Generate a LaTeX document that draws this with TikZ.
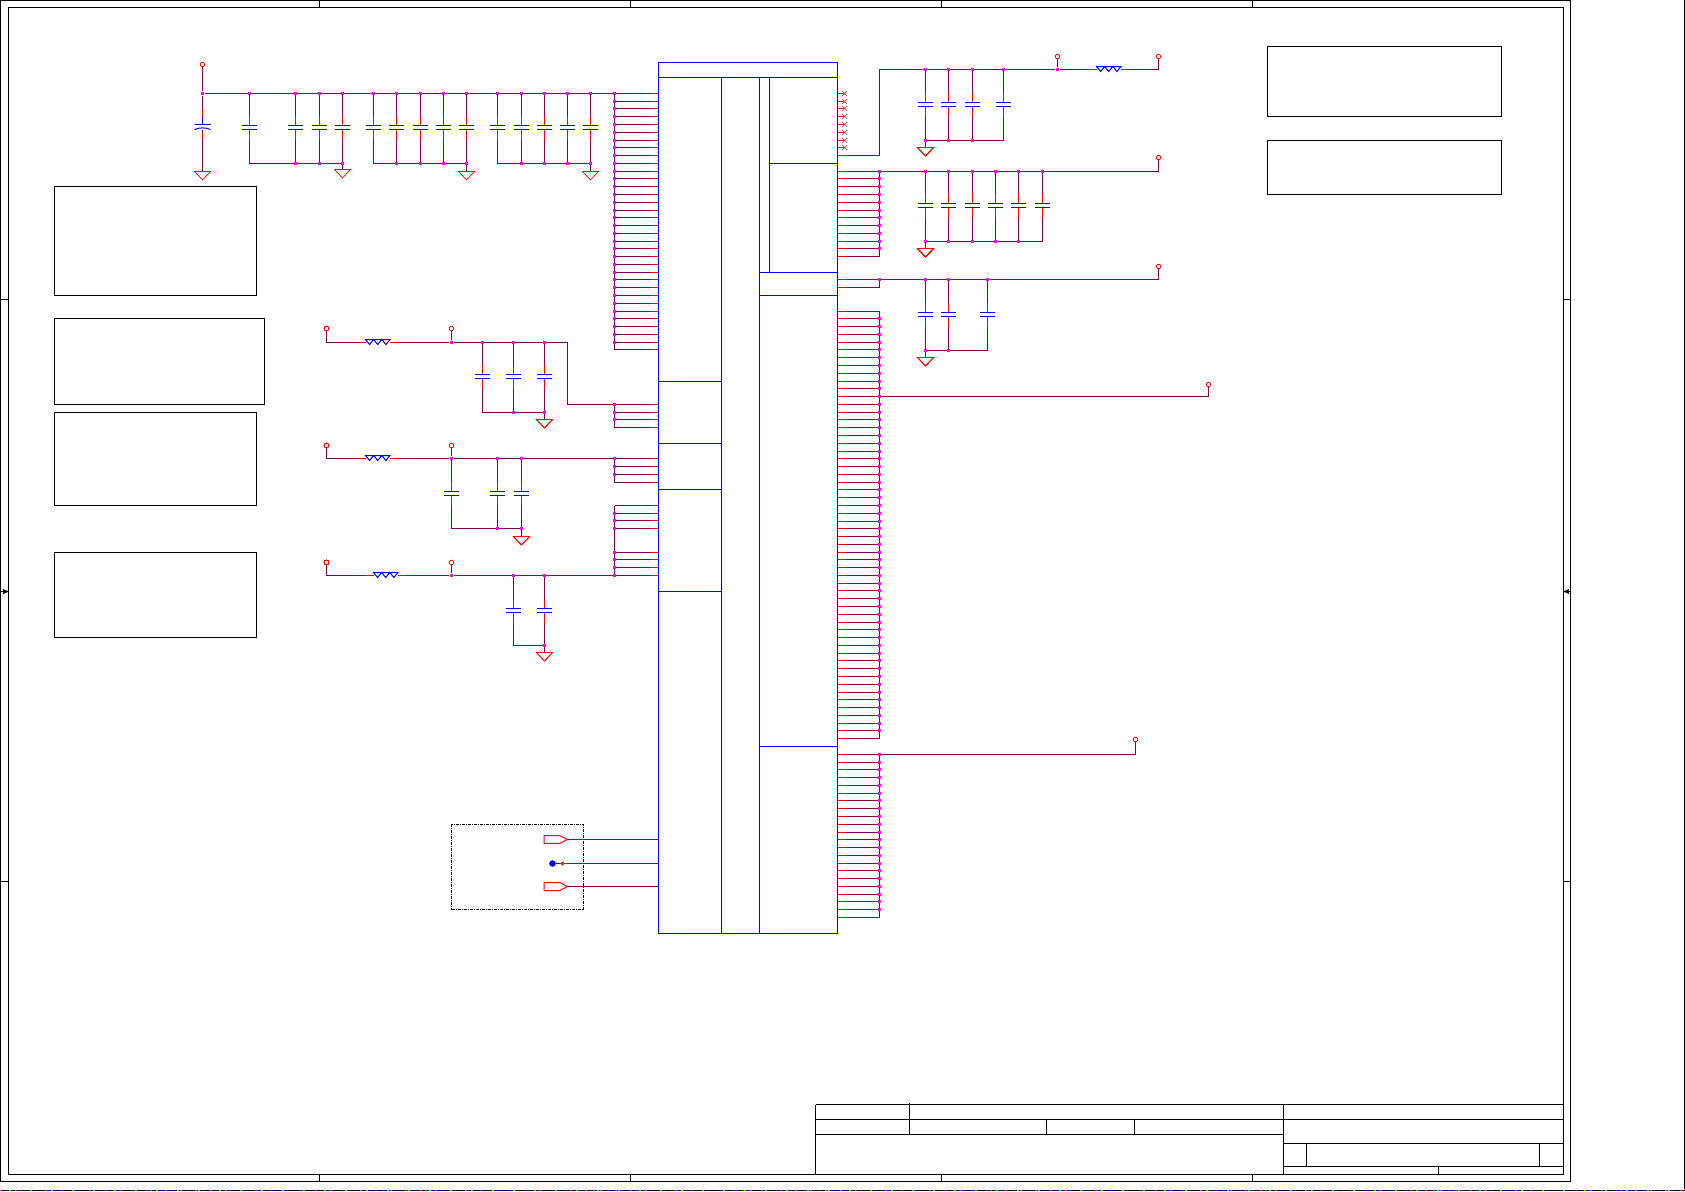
\documentclass[tikz,border=0pt]{standalone}
\usepackage{tikz}
\usetikzlibrary{arrows,positioning}

\definecolor{wirecol}{HTML}{800050}
\definecolor{nccol}{HTML}{A0623A}
\definecolor{dotcol}{RGB}{255,0,255}

\newcommand{\capv}[5]{%
  \node[capbody] (#1) at (#2,#4) {};
  \coordinate (#1t) at (#2,#3);
  \coordinate (#1b) at (#2,#5);
  \draw[wire] (#1t) -- (#1.north);
  \draw[wire] (#1.south) -- (#1b);
  \draw[stub] (#1.north) -- ++(0,-10);
  \draw[stub] (#1.south) -- ++(0,10);
  \draw[plate] (#1.north west) -- (#1.north east);
  \draw[plate] (#1.south west) -- (#1.south east);
}
\newcommand{\resv}[3]{%
  \coordinate (#1) at (#2,#3);
  \coordinate (#1l) at ({#2-8},#3);
  \coordinate (#1r) at ({#2+32.5},#3);
  \draw[stub] (#1l) -- (#1);
  \draw[stub] ({#2+24.5},#3) -- (#1r);
  \draw[plate] (#1) +(0,-3) -- +(24.5,-3) -- +(20.4,2) -- +(16.3,-3)
    -- +(12.2,2) -- +(8.1,-3) -- +(4.1,2) -- cycle;
}
\newcommand{\gnd}[3]{%
  \coordinate (#1) at (#2,#3);
  \draw[thinred] (#1) +(-8,0) -- +(8,0) -- +(0,8.4) -- cycle;
}
\newcommand{\lpin}[2]{%
  \coordinate (#1) at (614.5,#2);
  \coordinate (#1p) at (658.5,#2);
  \draw[wire] (#1) -- (#1p);
  \draw[stub] (#1p) -- ++(-8,0);
}
\newcommand{\rpin}[2]{%
  \coordinate (#1) at (879.5,#2);
  \coordinate (#1p) at (837.5,#2);
  \draw[wire] (#1) -- (#1p);
  \draw[stub] (#1p) -- ++(8,0);
}

\begin{document}
\begin{tikzpicture}[x=1pt,y=-1pt,>=stealth',line width=1pt]
  \tikzstyle{wire}=[draw=wirecol,line width=1pt]
  \tikzstyle{stub}=[draw=red,line width=1pt]
  \tikzstyle{thinred}=[draw=red,line width=.7pt]
  \tikzstyle{plate}=[draw=blue,line width=1pt]
  \tikzstyle{capbody}=[inner sep=0pt,outer sep=0pt,minimum width=15pt,minimum height=4pt]
  \tikzstyle{dot}=[rectangle,fill=dotcol,inner sep=0pt,minimum size=3.4pt]
  \tikzstyle{term}=[circle,draw=red,line width=.8pt,fill=white,inner sep=0pt,minimum size=4.5pt]
  \tikzstyle{frame}=[draw=black,line width=1pt]
  \tikzstyle{note}=[draw=black,line width=1pt,inner sep=0pt,outer sep=0pt,anchor=north west]
  \tikzstyle{block}=[draw=blue,line width=1pt,inner sep=0pt,outer sep=0pt,anchor=north west]
  \useasboundingbox (0,0) rectangle (1685,1191);

  % sheet border
  \node[note,minimum width=1570pt,minimum height=1181pt] (sheet) at (0.5,0.5) {};
  \node[note,minimum width=1555pt,minimum height=1167pt] (inner) at (8.5,7.5) {};
  \foreach \x in {319.5,630.5,941.5,1252.5} {
    \draw[frame] (\x,0.5) -- (\x,7.5);
    \draw[frame] (\x,1174.5) -- (\x,1181.5);
  }
  \foreach \y in {299.5,881.5} {
    \draw[frame] (0.5,\y) -- (8.5,\y);
    \draw[frame] (1563.5,\y) -- (1570.5,\y);
  }
  \draw[frame,->] (0.5,591.5) -- (8.5,591.5);
  \draw[frame,->] (1570.5,591.5) -- (1563.5,591.5);
  \draw[frame] (1684.5,0) -- (1684.5,1189);
  \draw[frame] (0,1190.5) -- (1685,1190.5);
  \draw[draw=dotcol,dash pattern=on 2pt off 13pt] (0,1190.5) -- (1685,1190.5);
  \draw[draw=blue,dash pattern=on 3pt off 11pt] (5,1190.5) -- (1685,1190.5);
  \draw[draw=green,dash pattern=on 2pt off 19pt] (9,1190.5) -- (1685,1190.5);

  % title block
  \draw[frame] (815.5,1104.5) -- (1563.5,1104.5);
  \draw[frame] (815.5,1119.5) -- (1563.5,1119.5);
  \draw[frame] (815.5,1134.5) -- (1283.5,1134.5);
  \draw[frame] (1283.5,1143.5) -- (1563.5,1143.5);
  \draw[frame] (1283.5,1166.5) -- (1563.5,1166.5);
  \draw[frame] (815.5,1104.5) -- (815.5,1174.5);
  \draw[frame] (909.5,1102.7) -- (909.5,1134.5);
  \draw[frame] (1046.5,1119.5) -- (1046.5,1134.5);
  \draw[frame] (1134.5,1119.5) -- (1134.5,1134.5);
  \draw[frame] (1283.5,1104.5) -- (1283.5,1174.5);
  \draw[frame,line width=.7pt] (1306.5,1143.5) -- (1306.5,1166.5);
  \draw[frame] (1539.5,1143.5) -- (1539.5,1166.5);
  \draw[frame] (1438.5,1166.5) -- (1438.5,1174.5);

  % note boxes
  \node[note,minimum width=202pt,minimum height=109pt] (notea) at (54.5,186.5) {};
  \node[note,minimum width=210pt,minimum height=86pt] (noteb) at (54.5,318.5) {};
  \node[note,minimum width=202pt,minimum height=93pt] (notec) at (54.5,412.5) {};
  \node[note,minimum width=202pt,minimum height=85pt] (noted) at (54.5,552.5) {};
  \node[note,minimum width=234pt,minimum height=70pt] (notee) at (1267.5,46.5) {};
  \node[note,minimum width=234pt,minimum height=54pt] (notef) at (1267.5,140.5) {};
  \node[note,minimum width=132pt,minimum height=85pt,dash pattern=on 3pt off 1pt on 1pt off 1pt]
    (clkbox) at (451.5,824.5) {};

  % main supply row
  \foreach \i in {0,...,33} {
    \pgfmathsetmacro{\y}{round(92.9+7.775*\i)+.5}
    \lpin{lr\i}{\y}
  }
  \foreach \i/\x in {1/249.5,2/295.5,3/319.5,4/342.5,5/373.5,6/396.5,7/420.5,8/443.5,9/466.5,
                     10/497.5,11/521.5,12/544.5,13/567.5,14/590.5} {
    \capv{a\i}{\x}{93.5}{127.5}{163.5}
  }
  \node[term] (ta) at (202.5,64.5) {};
  \node[dot] (ja) at (202.5,93.5) {};
  \coordinate (pc) at (202.5,124.5);
  \coordinate (pd) at (202.5,130);
  \gnd{ga}{202.5}{171.5}
  \gnd{gb}{342.5}{169.5}
  \gnd{gc}{466.5}{171.5}
  \gnd{gd}{590.5}{171.5}
  \draw[wire] (ta) -- (ja);
  \draw[wire] (ja) -- (pc);
  \draw[wire] (pd) -- (ga);
  \draw[stub] (202.5,109) -- (202.5,117);
  \draw[stub] (202.5,132) -- (202.5,140);
  \draw[plate] (202.5,117) -- (pc);
  \draw[plate] (194.5,124.5) -- (210.5,124.5);
  \draw[plate] (194.5,129.6) .. controls (198.5,127.3) and (206.5,127.3) .. (210.5,129.6);
  \draw[plate] (pd) -- (202.5,132);
  \draw[wire] (ja) -- (lr0);
  \draw[wire] (lr0) -- (lr33);
  \draw[wire] (a1b) -- (a4b) -- (gb);
  \draw[wire] (a5b) -- (a9b) -- (gc);
  \draw[wire] (a10b) -- (a14b) -- (gd);
  \foreach \i in {1,...,14} \node[dot] (da\i) at (a\i t) {};
  \foreach \i in {2,3,4,6,7,8,9,11,12,13,14} \node[dot] (ea\i) at (a\i b) {};
  \foreach \i in {0,...,32} \node[dot] (dl\i) at (lr\i) {};

  % second supply
  \foreach \n/\y in {0/404.5,1/412.5,2/419.5,3/427.5} \lpin{lb\n}{\y}
  \node[term] (tb) at (326.5,328.5) {};
  \node[term] (tc) at (451.5,328.5) {};
  \resv{rb}{365.5}{342.5}
  \foreach \i/\x in {1/482.5,2/513.5,3/544.5} \capv{b\i}{\x}{342.5}{376.5}{412.5}
  \gnd{ge}{544.5}{419.5}
  \coordinate (bcorner) at (567.5,342.5);
  \node[dot] (jb) at (451.5,342.5) {};
  \draw[wire] (tb) |- (rbl);
  \draw[wire] (rbr) -- (jb);
  \draw[wire] (tc) -- (jb);
  \draw[wire] (jb) -- (bcorner) |- (lb0);
  \draw[wire] (b1b) -- (b3b) -- (ge);
  \draw[wire] (lb0) -- (lb3);
  \foreach \i in {1,2,3} \node[dot] (db\i) at (b\i t) {};
  \foreach \i in {2,3} \node[dot] (eb\i) at (b\i b) {};
  \foreach \i in {0,1,2} \node[dot] (dlb\i) at (lb\i) {};

  % third supply
  \foreach \n/\y in {0/458.5,1/466.5,2/474.5,3/482.5} \lpin{lc\n}{\y}
  \node[term] (td) at (326.5,445.5) {};
  \node[term] (te) at (451.5,445.5) {};
  \resv{rc}{365.5}{458.5}
  \foreach \i/\x in {1/451.5,2/497.5,3/521.5} \capv{c\i}{\x}{458.5}{493.5}{528.5}
  \gnd{gf}{521.5}{536.5}
  \node[dot] (jc) at (451.5,458.5) {};
  \draw[wire] (td) |- (rcl);
  \draw[wire] (rcr) -- (jc);
  \draw[wire] (te) -- (jc);
  \draw[wire] (jc) -- (lc0);
  \draw[wire] (c1b) -- (c3b) -- (gf);
  \draw[wire] (lc0) -- (lc3);
  \foreach \i in {2,3} \node[dot] (dc\i) at (c\i t) {};
  \foreach \i in {2,3} \node[dot] (ec\i) at (c\i b) {};
  \foreach \i in {0,1,2} \node[dot] (dlc\i) at (lc\i) {};

  % fourth supply
  \foreach \n/\y in {0/505.5,1/513.5,2/520.5,3/528.5,4/552.5,5/559.5,6/567.5,7/575.5} \lpin{ld\n}{\y}
  \node[term] (tf) at (326.5,562.5) {};
  \node[term] (tg) at (451.5,562.5) {};
  \resv{rd}{373.5}{575.5}
  \foreach \i/\x in {1/513.5,2/544.5} \capv{d\i}{\x}{575.5}{610.5}{645.5}
  \gnd{gg}{544.5}{652.5}
  \node[dot] (jd) at (451.5,575.5) {};
  \draw[wire] (tf) |- (rdl);
  \draw[wire] (rdr) -- (jd);
  \draw[wire] (tg) -- (jd);
  \draw[wire] (jd) -- (ld7);
  \draw[wire] (d1b) -- (d2b) -- (gg);
  \draw[wire] (ld0) -- (ld7);
  \foreach \i in {1,2} \node[dot] (dd\i) at (d\i t) {};
  \node[dot] (ed2) at (d2b) {};
  \foreach \i in {1,...,7} \node[dot] (dld\i) at (ld\i) {};

  % clock pads
  \lpin{ck0}{839.5}
  \lpin{ck1}{863.5}
  \lpin{ck2}{886.5}
  \coordinate (xa) at (567.5,839.5);
  \coordinate (xb) at (563.5,863.5);
  \coordinate (xc) at (567.5,886.5);
  \node[circle,fill=blue,inner sep=0pt,minimum size=6.6pt] (gndpt) at (552.5,863.5) {};
  \draw[wire] (xa) -- (ck0p);
  \draw[wire] (xb) -- (ck1p);
  \draw[wire] (xc) -- (ck2p);
  \draw[stub] (xa) +(0,0) -- +(-7.7,-3.8) -- +(-23.4,-3.8) -- +(-23.4,3.8) -- +(-7.7,3.8) -- cycle;
  \draw[stub] (xc) +(0,0) -- +(-7.7,-4) -- +(-23.4,-4) -- +(-23.4,4) -- +(-7.7,4) -- cycle;
  \draw[plate] (gndpt) -- (559.5,863.5);
  \draw[stub] (xb) -- ++(3,0);
  \fill[red] (559.5,863.5) -- (563.5,861.3) -- (563.5,865.7) -- cycle;

  % right column, first group
  \foreach \i/\y in {0/93.5,1/101.5,2/108.5,3/116.5,4/124.5,5/132.5,6/140.5,7/147.5} {
    \coordinate (nc\i) at (837.5,\y);
    \coordinate (nx\i) at (844.6,\y);
    \draw[stub] (nc\i) -- (nx\i);
    \draw[draw=nccol,line width=.7pt] (nx\i) +(-2.4,-2.4) -- +(2.4,2.4) +(-2.4,2.4) -- +(2.4,-2.4);
  }
  \rpin{ra}{155.5}
  \coordinate (racorner) at (879.5,69.5);
  \node[term] (th) at (1057.5,56.5) {};
  \node[term] (ti) at (1158.5,56.5) {};
  \node[dot] (je) at (1057.5,69.5) {};
  \resv{re}{1096.5}{69.5}
  \foreach \i/\x in {1/925.5,2/948.5,3/972.5,4/1003.5} \capv{e\i}{\x}{69.5}{104.5}{140.5}
  \gnd{gh}{925.5}{147.5}
  \draw[wire] (ra) -- (racorner) -- (je);
  \draw[wire] (th) -- (je);
  \draw[wire] (je) -- (rel);
  \draw[wire] (rer) -| (ti);
  \draw[wire] (e1b) -- (e4b);
  \draw[wire] (e1b) -- (gh);
  \foreach \i in {1,...,4} \node[dot] (de\i) at (e\i t) {};
  \foreach \i in {1,2,3} \node[dot] (ee\i) at (e\i b) {};

  % right column, second group
  \foreach \i in {10,...,21} {
    \pgfmathsetmacro{\y}{round(92.9+7.775*\i)+.5}
    \rpin{rf\i}{\y}
  }
  \node[term] (tj) at (1158.5,157.5) {};
  \foreach \i/\x in {1/925.5,2/948.5,3/972.5,4/995.5,5/1018.5,6/1042.5} \capv{f\i}{\x}{171.5}{205.5}{241.5}
  \gnd{gi}{925.5}{248.5}
  \draw[wire] (rf10) -| (tj);
  \draw[wire] (rf10) -- (rf21);
  \draw[wire] (f1b) -- (f6b);
  \draw[wire] (f1b) -- (gi);
  \foreach \i in {1,...,6} \node[dot] (df\i) at (f\i t) {};
  \foreach \i in {1,...,5} \node[dot] (ef\i) at (f\i b) {};
  \foreach \i in {10,...,20} \node[dot] (drf\i) at (rf\i) {};

  % right column, third group
  \rpin{rg0}{279.5}
  \rpin{rg1}{287.5}
  \node[term] (tk) at (1158.5,266.5) {};
  \foreach \i/\x in {1/925.5,2/948.5,3/987.5} \capv{g\i}{\x}{279.5}{314.5}{350.5}
  \gnd{gj}{925.5}{357.5}
  \draw[wire] (rg0) -| (tk);
  \draw[wire] (rg0) -- (rg1);
  \draw[wire] (g1b) -- (g3b);
  \draw[wire] (g1b) -- (gj);
  \foreach \i in {1,2,3} \node[dot] (dg\i) at (g\i t) {};
  \foreach \i in {1,2} \node[dot] (eg\i) at (g\i b) {};
  \node[dot] (drg0) at (rg0) {};

  % long rows
  \foreach \i in {28,...,83} {
    \pgfmathsetmacro{\y}{round(92.9+7.775*\i)+.5}
    \rpin{rh\i}{\y}
  }
  \node[term] (tl) at (1208.5,384.5) {};
  \draw[wire] (rh28) -- (rh83);
  \draw[wire] (rh39) -| (tl);
  \foreach \i in {29,...,82} \node[dot] (drh\i) at (rh\i) {};

  \foreach \i in {85,...,106} {
    \pgfmathsetmacro{\y}{round(92.9+7.775*\i)+.5}
    \rpin{rj\i}{\y}
  }
  \node[term] (tm) at (1135.5,739.5) {};
  \draw[wire] (rj85) -- (rj106);
  \draw[wire] (rj85) -| (tm);
  \foreach \i in {85,...,105} \node[dot] (drj\i) at (rj\i) {};

  % device outline
  \node[block,minimum width=179pt,minimum height=871pt] (ic) at (658.5,62.5) {};
  \draw[plate] (658.5,77.5) -- (837.5,77.5);
  \draw[plate] (721.5,77.5) -- (721.5,933.5);
  \draw[plate] (759.5,77.5) -- (759.5,933.5);
  \draw[plate] (769.5,77.5) -- (769.5,272.5);
  \draw[plate] (769.5,163.5) -- (837.5,163.5);
  \draw[plate] (759.5,272.5) -- (837.5,272.5);
  \draw[plate] (759.5,295.5) -- (837.5,295.5);
  \draw[plate] (759.5,746.5) -- (837.5,746.5);
  \foreach \y in {381.5,443.5,489.5,591.5} \draw[plate] (658.5,\y) -- (721.5,\y);
\end{tikzpicture}
\end{document}
